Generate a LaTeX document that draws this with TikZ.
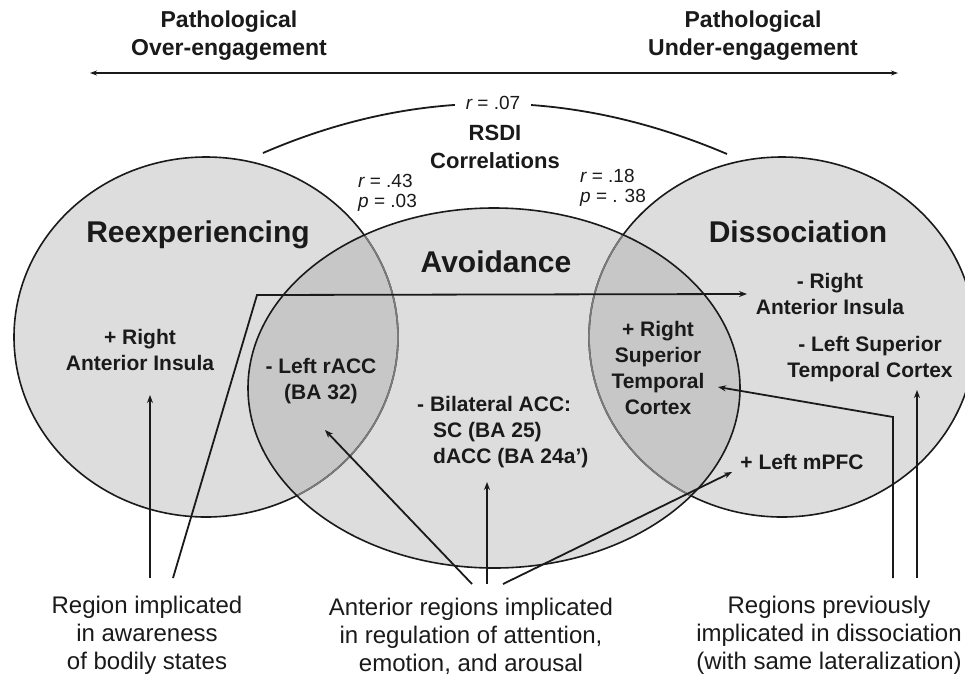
\documentclass[tikz,border=0pt]{standalone}
\usepackage{fontspec}
\setmainfont{Liberation Sans}
\usetikzlibrary{arrows.meta}
\definecolor{basefill}{HTML}{DDDDDD}
\definecolor{overfill}{HTML}{C7C7C7}
\definecolor{innerline}{HTML}{7C7C7C}
\definecolor{linec}{HTML}{1A1A1A}
\tikzset{
  head/.style={font=\bfseries\fontsize{23}{28}\selectfont, align=center, inner sep=0pt, text=linec},
  rsdistyle/.style={font=\bfseries\fontsize{22}{28}\selectfont, align=center, inner sep=0pt, text=linec},
  big/.style={font=\bfseries\fontsize{30}{34}\selectfont, inner sep=0pt, anchor=base, text=linec},
  lab/.style={font=\bfseries\fontsize{21}{26}\selectfont, align=center, inner sep=0pt, text=linec},
  bot/.style={font=\fontsize{24}{28}\selectfont, align=center, inner sep=0pt, text=linec},
  stat/.style={font=\fontsize{19}{20}\selectfont, align=left, inner sep=0pt, text=linec},
  conn/.style={line width=1.8pt, draw=linec},
  arr/.style={conn, -{Stealth[length=8pt,width=6pt]}},
  outline/.style={line width=1.6pt, draw=linec},
}
\begin{document}
\begin{tikzpicture}[x=1pt,y=-1pt]
\clip (0,0) rectangle (965,675);
\fill[white] (0,0) rectangle (965,675);
% centres of the three ellipses
\coordinate (cR) at (206,337);
\coordinate (cA) at (494,388);
\coordinate (cD) at (782,337);
% fills
\fill[basefill] (cR) ellipse [x radius=192pt, y radius=180pt];
\fill[basefill] (cD) ellipse [x radius=193pt, y radius=180pt];
\fill[basefill] (cA) ellipse [x radius=246pt, y radius=180pt];
\begin{scope}
  \clip (cA) ellipse [x radius=246pt, y radius=180pt];
  \fill[overfill] (cR) ellipse [x radius=192pt, y radius=180pt];
  \fill[overfill] (cD) ellipse [x radius=193pt, y radius=180pt];
\end{scope}
% outlines
\draw[outline] (cR) ellipse [x radius=192pt, y radius=180pt];
\draw[outline] (cD) ellipse [x radius=193pt, y radius=180pt];
\begin{scope}
  \clip (cA) ellipse [x radius=246pt, y radius=180pt];
  \draw[outline, draw=innerline] (cR) ellipse [x radius=192pt, y radius=180pt];
  \draw[outline, draw=innerline] (cD) ellipse [x radius=193pt, y radius=180pt];
\end{scope}
\draw[outline] (cA) ellipse [x radius=246pt, y radius=180pt];

% top headings and axis
\node[head] (ovr) at (229,36) {Pathological\\Over-engagement};
\node[head] (und) at (753,36) {Pathological\\Under-engagement};
\coordinate (axL) at (90,73);
\coordinate (axR) at (898,73);
\draw[conn, line width=1.6pt, {Stealth[length=7pt,width=5pt]}-{Stealth[length=7pt,width=5pt]}] (axL) -- (axR);

% RSDI correlation arc
\coordinate (arcL) at (263,153);
\coordinate (arcR) at (727,154);
\draw[conn] (arcL) .. controls (418,86) and (572,88) .. (arcR);
\node[stat, fill=white, inner xsep=11pt, inner ysep=3pt] (r07) at (493,103) {{\itshape r} = .07};
\node[rsdistyle] (rsdi) at (495,147) {RSDI\\Correlations};
\node[stat, anchor=west] (s43) at (358,193) {{\itshape r} = .43\\{\itshape p} = .03};
\node[stat, anchor=west] (s18) at (580,188) {{\itshape r} = .18\\{\itshape p} = . 38};

% ellipse titles
\node[big] (treexp) at (198,242) {Reexperiencing};
\node[big] (tavoid) at (496,272) {Avoidance};
\node[big] (tdiss) at (798,242) {Dissociation};

% region labels
\node[lab] (insR) at (140,350) {+ Right\\Anterior Insula};
\node[lab] (racc) at (321,381) {- Left rACC\\(BA 32)};
\node[lab, align=left, anchor=west] (bil) at (417,432) {- Bilateral ACC:\\\hspace*{16pt}SC (BA 25)\\\hspace*{16pt}dACC (BA 24a’)};
\node[lab] (stcR) at (658,368) {+ Right\\Superior\\Temporal\\Cortex};
\node[lab] (insD) at (830,294) {- Right\\Anterior Insula};
\node[lab] (stcL) at (870,359) {- Left Superior\\Temporal Cortex};
\node[lab] (mpfc) at (802,462) {+ Left mPFC};

% bottom captions
\node[bot] (botL) at (147,635) {Region implicated\\in awareness\\of bodily states};
\node[bot] (botM) at (471,636) {Anterior regions implicated\\in regulation of attention,\\emotion, and arousal};
\node[bot] (botR) at (829,635) {Regions previously\\implicated in dissociation\\(with same lateralization)};

% connector end points
\coordinate (a1s) at (150,578); \coordinate (a1e) at (150,395);
\coordinate (a2s) at (173,578); \coordinate (a2k) at (257,295); \coordinate (a2e) at (747,294);
\coordinate (a3s) at (472,584); \coordinate (a3e) at (325,430);
\coordinate (a4s) at (487,584); \coordinate (a4e) at (487,482);
\coordinate (a5s) at (503,584); \coordinate (a5e) at (732,472);
\coordinate (a6s) at (893,578); \coordinate (a6k) at (893,417); \coordinate (a6e) at (718,387);
\coordinate (a7s) at (917,578); \coordinate (a7e) at (917,390);

\draw[arr] (a1s) -- (a1e);
\draw[arr] (a2s) -- (a2k) -- (a2e);
\draw[arr] (a3s) -- (a3e);
\draw[arr] (a4s) -- (a4e);
\draw[arr] (a5s) -- (a5e);
\draw[arr] (a6s) -- (a6k) -- (a6e);
\draw[arr] (a7s) -- (a7e);
\end{tikzpicture}
\end{document}
